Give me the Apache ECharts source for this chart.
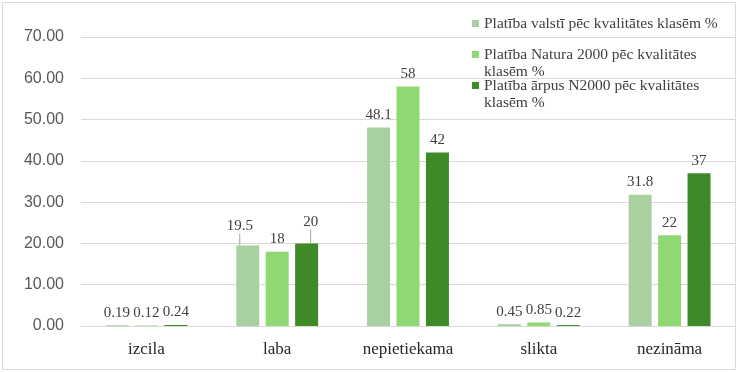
<!DOCTYPE html>
<html>
<head>
<meta charset="utf-8">
<script src="https://cdn.jsdelivr.net/npm/echarts@6/dist/echarts.min.js"></script>
<style>html,body{margin:0;padding:0;background:#fff;}#c{width:737px;height:372px;}</style>
</head>
<body>
<div id="c"></div>
<script>
const categories = ['izcila', 'laba', 'nepietiekama', 'slikta', 'nezināma'];
const seriesNames = [
  'Platība valstī pēc kvalitātes klasēm %',
  'Platība Natura 2000 pēc kvalitātes klasēm %',
  'Platība ārpus N2000 pēc kvalitātes klasēm %'
];
const valsti = [0.19, 19.5, 48.1, 0.45, 31.8];
const natura = [0.12, 18, 58, 0.85, 22];
const arpus = [0.24, 20, 42, 0.22, 37];
const yTicks = [0, 10, 20, 30, 40, 50, 60, 70];
const colors = ['#a9d0a0', '#8fd873', '#3e8a27'];
const legendLines = {
  'Platība valstī pēc kvalitātes klasēm %': 'Platība valstī pēc kvalitātes klasēm %',
  'Platība Natura 2000 pēc kvalitātes klasēm %': ' \nPlatība Natura 2000 pēc kvalitātes\nklasēm %',
  'Platība ārpus N2000 pēc kvalitātes klasēm %': ' \nPlatība ārpus N2000 pēc kvalitātes\nklasēm %'
};

const serif = 'Liberation Serif';
const chart = echarts.init(document.getElementById('c'), null, {renderer: 'canvas'});

function mkLegend(i, top) {
  return {
    data: [seriesNames[i]],
    left: 472, top: top,
    orient: 'vertical',
    itemWidth: 7, itemHeight: 7,
    icon: 'rect',
    itemGap: 0,
    padding: 0,
    selectedMode: false,
    formatter: n => legendLines[n],
    textStyle: {fontFamily: serif, fontSize: 15.5, color: '#404040', lineHeight: 17}
  };
}

function mkSeries(i, data, movedIndex, layout) {
  return {
    name: seriesNames[i],
    type: 'bar',
    data: data.map((v, k) => k === movedIndex ? {value: v, labelLine: {show: true}} : v),
    barWidth: 23,
    barGap: '28%',
    itemStyle: {color: colors[i]},
    label: {
      show: true, position: 'top', distance: 5,
      fontFamily: serif, fontSize: 15, color: '#404040'
    },
    labelLine: {show: false, lineStyle: {color: '#a6a6a6', width: 1}},
    labelLayout: layout
  };
}

chart.setOption({
  animation: false,
  backgroundColor: '#fff',
  graphic: [{
    type: 'rect', shape: {x: 2.5, y: 2.5, width: 733, height: 367},
    style: {fill: 'none', stroke: '#d9d9d9', lineWidth: 1}, silent: true, z: -1
  }],
  legend: [mkLegend(0, 15), mkLegend(1, 29), mkLegend(2, 60)],
  grid: {left: 81, right: 2, top: 37, bottom: 46, containLabel: false},
  xAxis: {
    type: 'category',
    data: categories,
    axisTick: {show: false},
    axisLine: {lineStyle: {color: '#d9d9d9'}},
    axisLabel: {fontFamily: serif, fontSize: 17, color: '#262626', margin: 15}
  },
  yAxis: {
    type: 'value',
    min: yTicks[0], max: yTicks[yTicks.length - 1], interval: 10,
    axisLine: {show: false},
    axisTick: {show: false},
    splitLine: {lineStyle: {color: '#d9d9d9'}},
    axisLabel: {
      fontFamily: 'Liberation Sans', fontSize: 16, color: '#595959', margin: 17,
      formatter: v => v.toFixed(2)
    }
  },
  series: [
    mkSeries(0, valsti, 1, p => p.dataIndex === 1 ? {dx: -8, dy: -7} : {}),
    mkSeries(1, natura, -1, null),
    mkSeries(2, arpus, 1, p => p.dataIndex === 1 ? {dx: 4, dy: -9} : {})
  ]
});
</script>
</body>
</html>
